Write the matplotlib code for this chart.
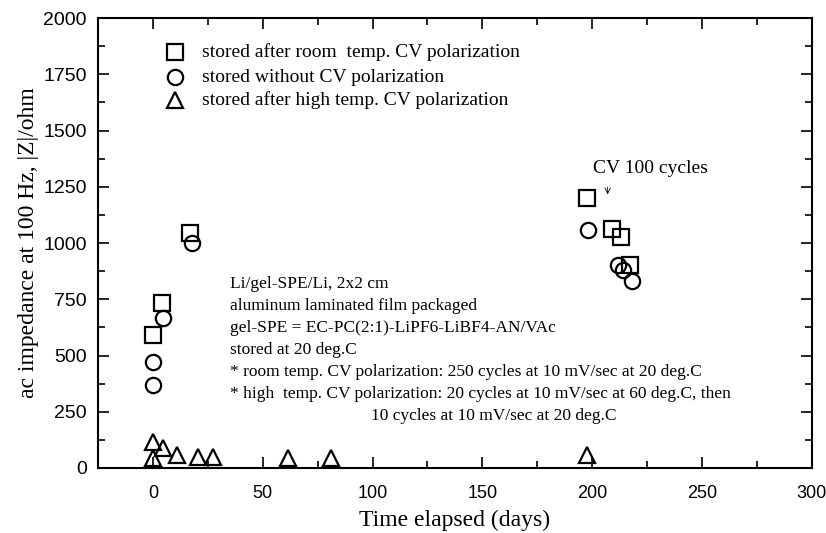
import numpy as np
import matplotlib
matplotlib.use("Agg")
from matplotlib import pyplot as plt
from matplotlib.ticker import MultipleLocator

# stored after room temp. CV polarization
sq_days = [0, 4, 16.8, 197.4, 208.8, 213.3, 217.1]
sq_z = [591, 732, 1043, 1199, 1061, 1025, 902]

# stored without CV polarization
ci_days = [0, 0, 4.7, 17.6, 198, 211.8, 214, 218.3]
ci_z = [369, 472, 665, 999, 1058, 902, 880, 832]

# stored after high temp. CV polarization
tr_days = [0, 0, 4.7, 11, 20.6, 27.5, 61.6, 81.3, 197.4]
tr_z = [117, 43, 88, 58, 50, 50, 43, 43, 58]

serif = "Liberation Serif"
sans = "Liberation Sans"

fig = plt.figure(figsize=(8.26, 5.33), dpi=100)
ax = fig.add_axes([0.1186, 0.122, 0.8644, 0.844])

mk = dict(linestyle="none", markerfacecolor="none", markeredgecolor="black",
          markersize=11, markeredgewidth=1.6)
ax.plot(sq_days, sq_z, marker="s", **mk)
ax.plot(ci_days, ci_z, marker="o", **mk)
ax.plot(tr_days, tr_z, marker="^", **mk)

ax.set_xlim(-25, 300)
ax.set_ylim(0, 2000)
ax.xaxis.set_major_locator(MultipleLocator(50))
ax.xaxis.set_minor_locator(MultipleLocator(25))
ax.yaxis.set_major_locator(MultipleLocator(250))
ax.yaxis.set_minor_locator(MultipleLocator(125))
ax.tick_params(which="both", direction="in", top=True, right=True, width=1.2)
ax.tick_params(which="major", length=8)
ax.tick_params(which="minor", length=5)
for lab in ax.get_xticklabels():
    lab.set_fontfamily(sans)
    lab.set_fontsize(13)
for lab in ax.get_yticklabels():
    lab.set_fontfamily(sans)
    lab.set_fontsize(14)
ax.tick_params(axis="x", pad=12)
ax.tick_params(axis="y", pad=8)
for s in ax.spines.values():
    s.set_linewidth(1.5)

ax.set_xlabel("Time elapsed (days)", fontfamily=serif, fontsize=17, labelpad=6)
ax.set_ylabel("ac impedance at 100 Hz, |Z|/ohm", fontfamily=serif, fontsize=17, labelpad=3)

# legend drawn by hand like the original
leg_labels = ["stored after room  temp. CV polarization",
              "stored without CV polarization",
              "stored after high temp. CV polarization"]
leg_marks = ["s", "o", "^"]
leg_y = [1849, 1738, 1636]
for m, lab, y in zip(leg_marks, leg_labels, leg_y):
    ax.plot([10], [y], marker=m, **mk)
    ax.text(22.5, y, lab, fontfamily=serif, fontsize=14, va="center")

note = ["Li/gel-SPE/Li, 2x2 cm",
        "aluminum laminated film packaged",
        "gel-SPE = EC-PC(2:1)-LiPF6-LiBF4-AN/VAc",
        "stored at 20 deg.C",
        "* room temp. CV polarization: 250 cycles at 10 mV/sec at 20 deg.C",
        "* high  temp. CV polarization: 20 cycles at 10 mV/sec at 60 deg.C, then"]
for i, line in enumerate(note):
    ax.text(35, 820 - i * 98, line, fontfamily=serif, fontsize=12.5, va="center")
ax.text(99.5, 820 - 6 * 98, "10 cycles at 10 mV/sec at 20 deg.C",
        fontfamily=serif, fontsize=12.5, va="center")

ax.text(226.7, 1333, "CV 100 cycles", fontfamily=serif, fontsize=14, ha="center", va="center")
ax.annotate("", xy=(207, 1204), xytext=(207, 1262),
            arrowprops=dict(arrowstyle="->", color="black", lw=0.6))

plt.savefig("out.png", dpi=100)
